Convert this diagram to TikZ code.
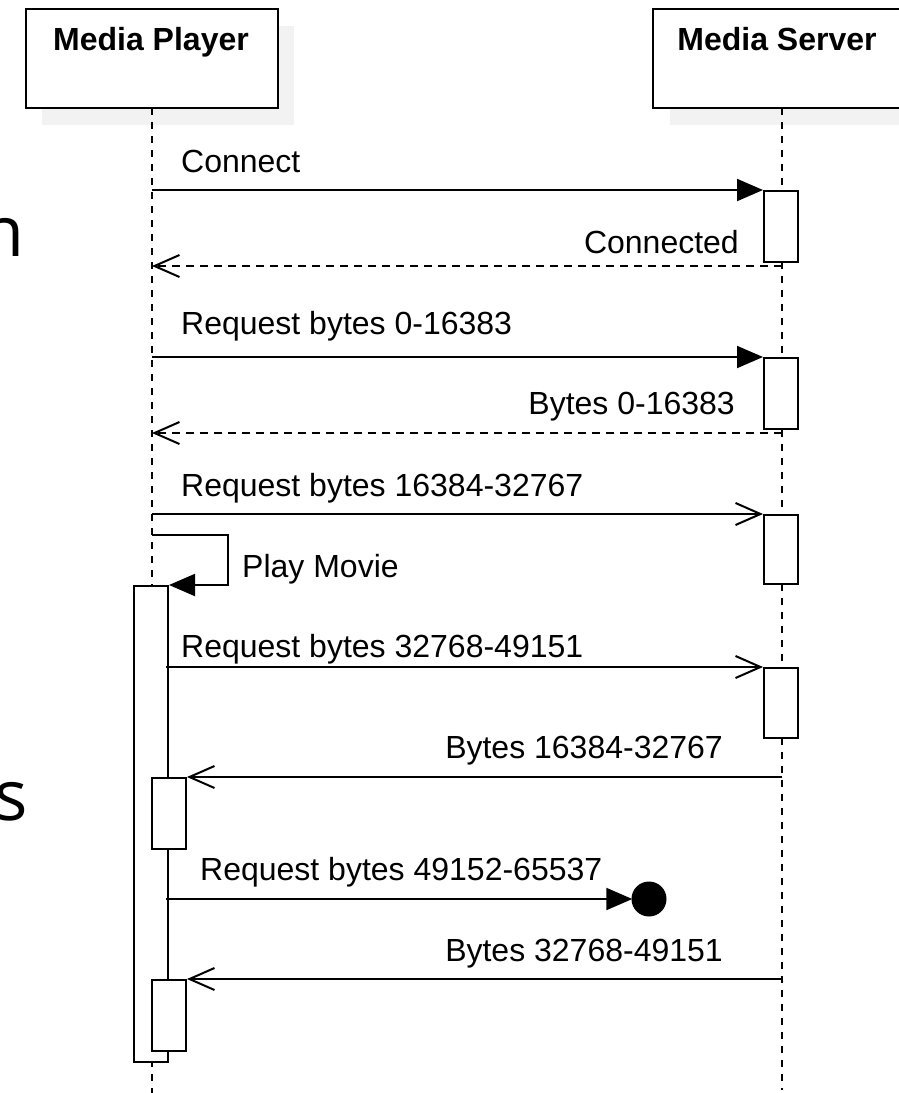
\documentclass[tikz,border=0pt]{standalone}
\usepackage{fontspec}
\setmainfont{Liberation Sans}
\newfontfamily\bigsans{Open Sans}
\usetikzlibrary{arrows.meta}
\definecolor{shadowgray}{RGB}{242,242,242}
\begin{document}
\begin{tikzpicture}[x=1pt,y=-1pt,
  every node/.style={font=\fontsize{32}{38}\selectfont},
  actor/.style={draw, line width=2pt, fill=white, minimum width=252pt, minimum height=99pt, inner sep=0pt, anchor=north west},
  headtxt/.style={font=\fontsize{32}{38}\selectfont\bfseries, inner sep=0pt, anchor=base},
  act/.style={draw, line width=2pt, fill=white, minimum width=34pt, inner sep=0pt, anchor=north west},
  life/.style={line width=2pt, dash pattern=on 7pt off 7pt},
  msg/.style={line width=2pt},
  ret/.style={line width=2pt, dash pattern=on 8pt off 6pt},
  filledtip/.style={-{Triangle[length=26pt,width=22pt]}},
  opentip/.style={-{Straight Barb[length=25pt,width=22pt]}},
  lblw/.style={inner sep=0pt, anchor=base west},
  lble/.style={inner sep=0pt, anchor=base east},
  lost/.style={circle, fill=black, minimum size=35pt, inner sep=0pt},
  cutletter/.style={font=\fontsize{70}{80}\selectfont\bigsans, inner sep=0pt, anchor=base east}
]
\useasboundingbox (0,0) rectangle (899,1093);
\clip (0,0) rectangle (899,1093);

% cut-off letters at the left edge
\node[cutletter] (cutn) at (25,256) {n};
\node[cutletter] (cuts) at (28,820) {s};

% shadows
\fill[shadowgray] (42,26) rectangle (294,125);
\fill[shadowgray] (670,26) rectangle (930,125);

% actors
\node[actor] (mp) at (25,8) {};
\node[actor, minimum width=260pt] (ms) at (652,8) {};
\node[headtxt] (mpl) at (151,50) {Media Player};
\node[headtxt] (msl) at (777,50) {Media Server};

% lifeline coordinates
\coordinate (pTop) at (152,108);
\coordinate (pBot) at (152,1093);
\coordinate (sTop) at (782,108);
\coordinate (sBot) at (782,1090);
\draw[life] (pTop) -- (pBot);
\draw[life] (sTop) -- (sBot);

% activations on server
\node[act, minimum height=71pt] (s1) at (763,190) {};
\node[act, minimum height=71pt] (s2) at (763,357) {};
\node[act, minimum height=69pt] (s3) at (763,514) {};
\node[act, minimum height=70pt] (s4) at (763,667) {};

% activations on player
\node[act, minimum height=476pt] (pa) at (133,585) {};
\node[act, minimum height=71pt] (pb) at (151,777) {};
\node[act, minimum height=71pt] (pc) at (151,979) {};

% message coordinates
\coordinate (m1) at (152,190);
\coordinate (r1s) at (782,266);
\coordinate (r1e) at (152,266);
\coordinate (m2) at (152,357);
\coordinate (r2s) at (782,433);
\coordinate (r2e) at (152,433);
\coordinate (m3) at (152,514);
\coordinate (loopA) at (152,535);
\coordinate (loopB) at (228,535);
\coordinate (loopC) at (228,585);
\coordinate (m4) at (166,667);
\coordinate (m5) at (782,777);
\coordinate (m6) at (166,899);
\coordinate (m7) at (782,979);
\node[lost] (lostpt) at (649,899) {};

% messages
\draw[msg, filledtip] (m1) -- (s1.north west);
\node[lblw] (t1) at (181,172) {Connect};

\draw[ret, opentip] (r1s) -- (r1e);
\node[lble] (t2) at (739,253) {Connected};

\draw[msg, filledtip] (m2) -- (s2.north west);
\node[lblw] (t3) at (181,334) {Request bytes 0-16383};

\draw[ret, opentip] (r2s) -- (r2e);
\node[lble] (t4) at (735,414) {Bytes 0-16383};

\draw[msg, opentip] (m3) -- (s3.north west);
\node[lblw] (t5) at (181,496) {Request bytes 16384-32767};

\draw[msg, filledtip] (loopA) -- (loopB) -- (loopC) -- (pa.north east);
\node[lblw] (t6) at (242,577) {Play Movie};

\draw[msg, opentip] (m4) -- (s4.north west);
\node[lblw] (t7) at (181,657) {Request bytes 32768-49151};

\draw[msg, opentip] (m5) -- (pb.north east);
\node[lble] (t8) at (723,758) {Bytes 16384-32767};

\draw[msg, filledtip, shorten >=-1pt] (m6) -- (lostpt.west);
\node[lblw] (t9) at (200,880) {Request bytes 49152-65537};

\draw[msg, opentip] (m7) -- (pc.north east);
\node[lble] (t10) at (723,961) {Bytes 32768-49151};
\end{tikzpicture}
\end{document}
